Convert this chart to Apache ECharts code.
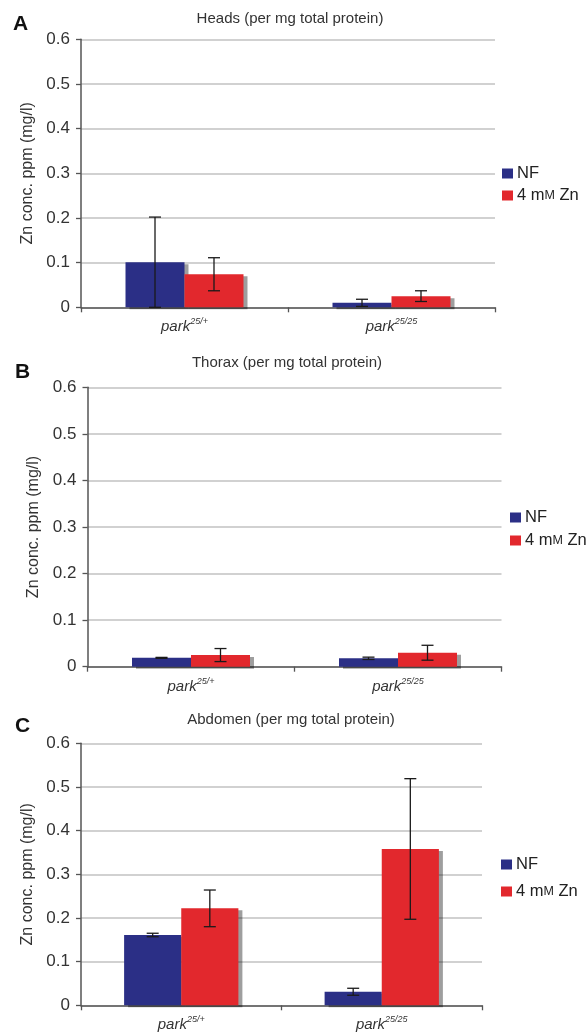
<!DOCTYPE html>
<html>
<head>
<meta charset="utf-8">
<style>
  html, body { margin: 0; padding: 0; background: #fff; }
  #chart { width: 586px; height: 1032px; }
</style>
<script src="https://cdn.jsdelivr.net/npm/echarts@6/dist/echarts.min.js"></script>
</head>
<body>
<div id="chart"></div>
<script>
// categories (genotypes)
var categories = ['park25/+', 'park25/25'];
var seriesNames = ['NF', '4 mM Zn'];
var yTicks = [0, 0.1, 0.2, 0.3, 0.4, 0.5, 0.6];

// A - heads
var headsNF = [0.101, 0.010];
var headsNFErr = [0.101, 0.008];
var headsZn = [0.074, 0.025];
var headsZnErr = [0.037, 0.012];
// B - thorax
var thoraxNF = [0.019, 0.018];
var thoraxNFErr = [0.001, 0.0025];
var thoraxZn = [0.025, 0.030];
var thoraxZnErr = [0.014, 0.016];
// C - abdomen
var abdomenNF = [0.161, 0.031];
var abdomenNFErr = [0.004, 0.008];
var abdomenZn = [0.222, 0.358];
var abdomenZnErr = [0.042, 0.161];

var panelTitles = ['Heads (per mg total protein)', 'Thorax (per mg total protein)', 'Abdomen (per mg total protein)'];
var panelLetters = ['A', 'B', 'C'];

var FONT = "'Liberation Sans', Arial, sans-serif";
var BLUE = '#2b2f86';
var RED = '#e2282d';
var CAT_GAP = 0.43;

// plot boxes per panel
var boxes = [
    { left: 81, right: 495, top: 39.3, bottom: 307.3, titleX: 290, titleY: 19, letterX: 13, letterY: 24, legTop: 165, legGap: 5, legLeft: 502 },
    { left: 87.5, right: 501.5, top: 387.3, bottom: 666.7, titleX: 287, titleY: 363, letterX: 15, letterY: 372, legTop: 509, legGap: 6, legLeft: 510 },
    { left: 81, right: 482, top: 743.3, bottom: 1005.3, titleX: 291, titleY: 720, letterX: 15, letterY: 726, legTop: 856, legGap: 10, legLeft: 501 }
];
var barData = [
    [headsNF, headsZn, headsNFErr, headsZnErr],
    [thoraxNF, thoraxZn, thoraxNFErr, thoraxZnErr],
    [abdomenNF, abdomenZn, abdomenNFErr, abdomenZnErr]
];

function errRender(params, api) {
    var cat = api.value(0);
    var grp = api.value(3);
    var lo = api.coord([cat, api.value(1)]);
    var hi = api.coord([cat, api.value(2)]);
    var catW = api.size([1, 0])[0];
    var barW = catW * (1 - CAT_GAP) / 2;
    var x = lo[0] + (grp === 0 ? -barW / 2 : barW / 2);
    var cap = 6;
    var st = { stroke: '#1a1a1a', lineWidth: 1.3 };
    return {
        type: 'group',
        children: [
            { type: 'line', shape: { x1: x, y1: lo[1], x2: x, y2: hi[1] }, style: st },
            { type: 'line', shape: { x1: x - cap, y1: hi[1], x2: x + cap, y2: hi[1] }, style: st },
            { type: 'line', shape: { x1: x - cap, y1: lo[1], x2: x + cap, y2: lo[1] }, style: st }
        ]
    };
}

var grids = [], xAxes = [], yAxes = [], series = [], legends = [], graphics = [];

boxes.forEach(function (b, i) {
    grids.push({
        left: b.left, width: b.right - b.left,
        top: b.top, height: b.bottom - b.top,
        outerBoundsMode: 'none'
    });
    xAxes.push({
        type: 'category', gridIndex: i, data: categories,
        axisLine: { lineStyle: { color: '#555', width: 1.5 } },
        axisTick: { show: true, length: 5, lineStyle: { color: '#555', width: 1.3 } },
        axisLabel: {
            margin: 10,
            formatter: function (v) {
                var p = v.split('park');
                return '{i|park}{sup|' + p[1] + '}';
            },
            rich: {
                i: { fontFamily: FONT, fontStyle: 'italic', fontSize: 15, color: '#333', lineHeight: 20 },
                sup: { fontFamily: FONT, fontStyle: 'italic', fontSize: 9, color: '#333', verticalAlign: 'top', lineHeight: 12 }
            }
        }
    });
    yAxes.push({
        type: 'value', gridIndex: i, min: yTicks[0], max: yTicks[yTicks.length - 1], interval: 0.1,
        name: 'Zn conc. ppm (mg/l)', nameLocation: 'middle', nameGap: 38,
        nameTextStyle: { fontFamily: FONT, fontSize: 16, color: '#333' },
        axisLine: { show: true, lineStyle: { color: '#555', width: 1.5 } },
        axisTick: { show: true, length: 5, lineStyle: { color: '#555', width: 1.3 } },
        axisLabel: {
            margin: 11, fontFamily: FONT, fontSize: 17, color: '#333',
            formatter: function (v) { return v === 0 ? '0' : v.toFixed(1); }
        },
        splitLine: { lineStyle: { color: '#c2c2c2', width: 1.5 } }
    });

    var d = barData[i];
    [0, 1].forEach(function (k) {
        series.push({
            type: 'bar', name: seriesNames[k], xAxisIndex: i, yAxisIndex: i,
            data: d[k], barGap: '0%', barCategoryGap: (CAT_GAP * 100) + '%',
            itemStyle: {
                color: k === 0 ? BLUE : RED,
                shadowColor: 'rgba(0,0,0,0.38)', shadowBlur: 0,
                shadowOffsetX: 4, shadowOffsetY: 2
            },
            silent: true
        });
    });
    var errData = [];
    [0, 1].forEach(function (k) {
        for (var c = 0; c < categories.length; c++) {
            var v = d[k][c], e = d[k + 2][c];
            errData.push([c, Math.max(v - e, 0), v + e, k]);
        }
    });
    series.push({
        type: 'custom', name: 'err' + i, xAxisIndex: i, yAxisIndex: i,
        renderItem: errRender, data: errData, z: 5, silent: true
    });

    legends.push({
        orient: 'vertical', left: b.legLeft, top: b.legTop, padding: 0,
        itemWidth: 11, itemHeight: 10, itemGap: b.legGap,
        icon: 'rect', data: seriesNames, selectedMode: false,
        formatter: function (n) { return n === '4 mM Zn' ? '4 m{sc|M} Zn' : n; },
        textStyle: {
            fontFamily: FONT, fontSize: 16.5, color: '#222', padding: [0, 0, 0, -1],
            rich: { sc: { fontFamily: FONT, fontSize: 12.5, color: '#222' } }
        }
    });

    graphics.push({
        type: 'text', x: b.titleX, y: b.titleY,
        style: { text: panelTitles[i], fontFamily: FONT, fontSize: 15, fill: '#333', textAlign: 'center', textVerticalAlign: 'middle' }
    });
    graphics.push({
        type: 'text', x: b.letterX, y: b.letterY,
        style: { text: panelLetters[i], fontFamily: FONT, fontSize: 21, fontWeight: 'bold', fill: '#111', textAlign: 'left', textVerticalAlign: 'middle' }
    });
});

var chart = echarts.init(document.getElementById('chart'));
chart.setOption({
    backgroundColor: '#fff',
    animation: false,
    grid: grids,
    xAxis: xAxes,
    yAxis: yAxes,
    legend: legends,
    series: series,
    graphic: graphics
});
</script>
</body>
</html>
